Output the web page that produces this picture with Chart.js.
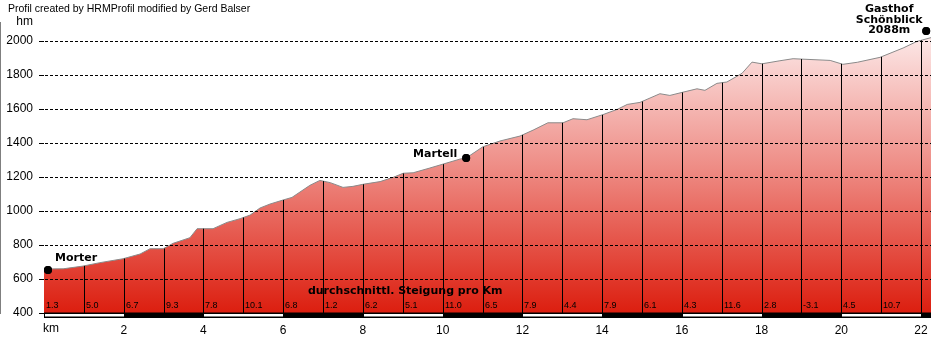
<!DOCTYPE html>
<html>
<head>
<meta charset="utf-8">
<script src="https://cdn.jsdelivr.net/npm/chart.js@4/dist/chart.umd.min.js"></script>
<style>
html,body{margin:0;padding:0;background:#fff;}
#c{display:block;}
</style>
</head>
<body>
<canvas id="c" width="931" height="337" style="width:931px;height:337px"></canvas>
<script>
// ---- data ----
const distKm = [0, 0.48, 0.98, 1.40, 1.98, 2.41, 2.66, 2.99, 3.24, 3.66, 3.84, 4.24, 4.59, 4.92, 5.17, 5.42, 5.67, 6.00, 6.22, 6.67, 6.92, 7.18, 7.50, 7.75, 8.00, 8.43, 8.76, 9.01, 9.26, 9.68, 10.44, 10.59, 11.01, 11.44, 11.94, 12.27, 12.64, 13.02, 13.27, 13.62, 14.02, 14.38, 14.63, 14.95, 15.45, 15.70, 16.01, 16.38, 16.58, 16.88, 17.13, 17.51, 17.76, 18.01, 18.46, 18.79, 19.72, 20.04, 20.40, 20.97, 21.55, 21.90, 22.03, 22.25];
const elevation = [659, 660, 676, 696, 719, 747, 778, 778, 810, 843, 896, 896, 933, 955, 976, 1018, 1041, 1065, 1080, 1151, 1180, 1167, 1139, 1145, 1157, 1173, 1198, 1222, 1225, 1253, 1306, 1312, 1378, 1412, 1441, 1476, 1519, 1519, 1543, 1537, 1567, 1598, 1627, 1639, 1690, 1680, 1698, 1719, 1710, 1751, 1759, 1810, 1876, 1866, 1884, 1896, 1886, 1863, 1875, 1904, 1959, 1998, 2006, 2020];

const placeNames = [['Morter'], ['Martell'], ['Gasthof', 'Schönblick', '2088m']];
const placeKm = [0.10, 10.59, 22.13];
const placeElev = [653, 1312, 2059];

// average gradient per km (%)
const gradientPerKm = [1.3, 5.0, 6.7, 9.3, 7.8, 10.1, 6.8, 1.2, 6.2, 5.1, 11.0, 6.5, 7.9, 4.4, 7.9, 6.1, 4.3, 11.6, 2.8, -3.1, 4.5, 10.7];

const yTickValues = [400, 600, 800, 1000, 1200, 1400, 1600, 1800, 2000, 2112];
const yUnitLabel = 'hm';
const xTickValues = [0, 2, 4, 6, 8, 10, 12, 14, 16, 18, 20, 22];
const xUnitLabel = 'km';
const titleText = 'Profil created by HRMProfil modified by Gerd Balser';
const gradientCaption = 'durchschnittl. Steigung pro Km';

const X_MAX = 22.25, Y_MIN = 400, Y_MAX = 2112;

// ---- helpers ----
function elevAt(k) {
  for (let i = 1; i < distKm.length; i++) {
    if (k <= distKm[i]) {
      const t = (k - distKm[i - 1]) / (distKm[i] - distKm[i - 1]);
      return elevation[i - 1] + t * (elevation[i] - elevation[i - 1]);
    }
  }
  return elevation[elevation.length - 1];
}

const FONT = "'Liberation Sans', Arial, sans-serif";
const BOLD = "'DejaVu Sans', Verdana, sans-serif";
Chart.defaults.font.family = FONT;
Chart.defaults.color = '#000';

const profileData = distKm.map((k, i) => ({x: k, y: elevation[i]}));
const placeData = placeKm.map((k, i) => ({x: k, y: placeElev[i]}));

const decorPlugin = {
  id: 'decor',
  afterDatasetsDraw(chart) {
    const {ctx, chartArea, scales: {x, y}} = chart;
    ctx.save();
    ctx.strokeStyle = '#000';
    ctx.lineWidth = 1;
    for (let k = 1; k <= 22; k++) {
      const px = Math.round(x.getPixelForValue(k)) + 0.5;
      ctx.beginPath();
      ctx.moveTo(px, y.getPixelForValue(elevAt(k)));
      ctx.lineTo(px, chartArea.bottom);
      ctx.stroke();
    }
    // gradient values per km
    ctx.fillStyle = '#000';
    ctx.font = '9px ' + FONT;
    ctx.textAlign = 'left';
    ctx.textBaseline = 'alphabetic';
    gradientPerKm.forEach((g, k) => {
      ctx.fillText(g.toFixed(1), Math.round(x.getPixelForValue(k)) + 2, chartArea.bottom - 5);
    });
    // caption
    ctx.font = 'bold 11px ' + BOLD;
    ctx.fillText(gradientCaption, x.getPixelForValue(6.62), chartArea.bottom - 19);
    // place markers
    const meta = chart.getDatasetMeta(1);
    ctx.fillStyle = '#000';
    meta.data.forEach((pt) => {
      ctx.beginPath();
      ctx.arc(pt.x, pt.y, 4, 0, Math.PI * 2);
      ctx.fill();
    });
    ctx.restore();
  },
  afterDraw(chart) {
    const {ctx, chartArea, scales: {x, y}} = chart;
    ctx.save();
    // alternating km bar below the axis
    const b = chartArea.bottom;
    const x0 = x.getPixelForValue(0);
    ctx.fillStyle = '#000';
    ctx.fillRect(x0, b - 0.5, chartArea.right - x0, 5.5);
    ctx.fillStyle = '#fff';
    for (let k = 0; k < X_MAX; k += 4) {
      const a = Math.round(x.getPixelForValue(k)) + 1;
      const e = Math.round(x.getPixelForValue(Math.min(k + 2, X_MAX))) - 1;
      ctx.fillRect(a, b + 1, e - a + 1, 2.5);
    }
    // unit label km
    ctx.fillStyle = '#000';
    ctx.font = '12px ' + FONT;
    ctx.textAlign = 'left';
    ctx.textBaseline = 'alphabetic';
    ctx.fillText(xUnitLabel, x0 - 1, 332);
    // title
    ctx.font = '10.5px ' + FONT;
    ctx.fillText(titleText, 8, 12);
    // place labels
    const meta = chart.getDatasetMeta(1);
    ctx.font = 'bold 11px ' + BOLD;
    meta.data.forEach((pt, i) => {
      const lines = placeNames[i];
      if (i === 0) {
        ctx.textAlign = 'left';
        ctx.fillText(lines[0], pt.x + 7, pt.y - 9);
      } else if (i === 1) {
        ctx.textAlign = 'right';
        ctx.fillText(lines[0], pt.x - 9, pt.y - 1);
      } else {
        ctx.textAlign = 'center';
        const cx = pt.x - 37;
        ctx.fillText(lines[0], cx, pt.y - 19);
        ctx.fillText(lines[1], cx, pt.y - 8);
        ctx.fillText(lines[2], cx, pt.y + 2);
      }
    });
    ctx.restore();
  }
};

new Chart(document.getElementById('c'), {
  type: 'line',
  data: {
    datasets: [{
      data: profileData,
      order: 2,
      borderColor: '#8a8a8a',
      borderWidth: 1,
      pointRadius: 0,
      tension: 0,
      fill: 'start',
      backgroundColor: (ctx) => {
        const ca = ctx.chart.chartArea;
        if (!ca) return '#e88';
        const g = ctx.chart.ctx.createLinearGradient(0, ca.top, 0, ca.bottom);
        g.addColorStop(0, 'rgb(254,242,242)');
        g.addColorStop(0.5, 'rgb(238,140,133)');
        g.addColorStop(1, 'rgb(220,30,15)');
        return g;
      }
    }, {
      type: 'scatter',
      order: 1,
      data: placeData,
      pointRadius: 4,
      pointBackgroundColor: '#000',
      pointBorderColor: '#000',
      pointBorderWidth: 0,
      showLine: false,
      clip: false
    }]
  },
  options: {
    responsive: false,
    animation: false,
    events: [],
    layout: {autoPadding: false, padding: {top: 22, left: 0, right: 0, bottom: 0}},
    plugins: {legend: {display: false}, tooltip: {enabled: false}, title: {display: false}},
    scales: {
      x: {
        type: 'linear',
        min: 0,
        max: X_MAX,
        afterBuildTicks: (s) => { s.ticks = xTickValues.map(v => ({value: v})); },
        afterFit: (s) => { s.height = 24; s.paddingLeft = 0; s.paddingRight = 0; },
        grid: {display: false, drawTicks: false},
        border: {display: true, color: '#000', width: 1},
        ticks: {
          padding: 10,
          maxRotation: 0,
          autoSkip: false,
          font: {size: 12},
          color: '#000',
          callback: (v) => (v === 0 ? '' : String(v))
        }
      },
      y: {
        type: 'linear',
        min: Y_MIN,
        max: Y_MAX,
        afterBuildTicks: (s) => { s.ticks = yTickValues.map(v => ({value: v})); },
        afterFit: (s) => { s.width = 44; s.paddingTop = 0; s.paddingBottom = 0; },
        grid: {
          z: 1,
          color: (c) => (c.tick && (c.tick.value === Y_MAX || c.tick.value === Y_MIN) ? 'rgba(0,0,0,0)' : '#000'),
          tickColor: (c) => (c.tick && c.tick.value === Y_MAX ? 'rgba(0,0,0,0)' : '#000'),
          lineWidth: 1,
          tickLength: 5,
          drawTicks: true
        },
        border: {display: true, color: '#000', width: 1, dash: [3, 2]},
        ticks: {
          padding: 6,
          autoSkip: false,
          font: {size: 12},
          color: '#000',
          callback: (v) => (v === Y_MAX ? yUnitLabel : String(v))
        }
      }
    }
  },
  plugins: [decorPlugin]
});
</script>
</body>
</html>
